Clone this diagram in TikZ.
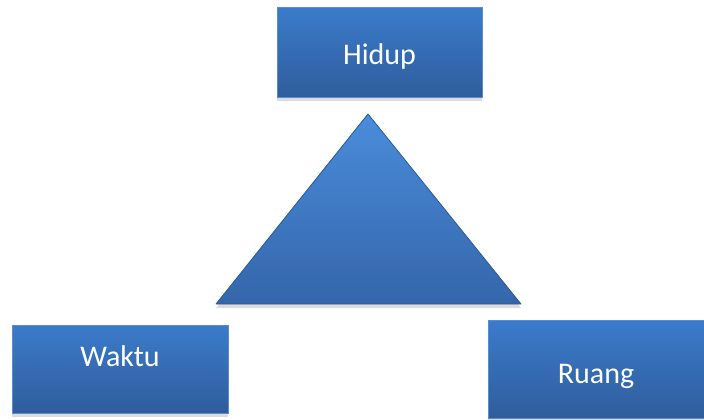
\documentclass[tikz,border=0pt]{standalone}
\usepackage{fontspec}
\setmainfont{Carlito}
\usetikzlibrary{shadows}
\definecolor{boxtop}{HTML}{3B7BCB}
\definecolor{boxbot}{HTML}{2F5D9C}
\definecolor{boxedge}{HTML}{5A8CCF}
\definecolor{tritop}{HTML}{4A8CDB}
\definecolor{tribot}{HTML}{3466AA}
\definecolor{triedge}{HTML}{2C5A96}

\begin{document}
\begin{tikzpicture}[
  x=1pt, y=-1pt,
  font=\fontsize{30}{36}\selectfont,
  word/.style={rectangle, draw=boxedge, line width=1pt, top color=boxtop, bottom color=boxbot,
               text=white, text height=19.3pt, text depth=0pt, inner sep=0pt,
               drop shadow={opacity=0.28, shadow xshift=0pt, shadow yshift=-4pt}},
  tri/.style={draw=triedge, line width=0.8pt, line join=round, top color=tritop, bottom color=tribot,
              drop shadow={opacity=0.28, shadow xshift=0pt, shadow yshift=-4pt}},
]
\useasboundingbox (0,0) rectangle (704,420);

\node[word, minimum width=205pt, minimum height=89pt] (hidup) at (379.5,52.5) {\raisebox{-2.5pt}{Hidup}};
\node[word, minimum width=216pt, minimum height=88pt] (waktu) at (120,369)   {\raisebox{12pt}{Waktu}};
\node[word, minimum width=216pt, minimum height=98pt] (ruang) at (596,369)   {\raisebox{-4.7pt}{Ruang}};

% the triangle in the middle
\coordinate (apex) at (368,114);
\coordinate (left) at (216,304);
\coordinate (right) at (521,304);
\path[tri] (left) -- (apex) -- (right) -- cycle;

\end{tikzpicture}
\end{document}
